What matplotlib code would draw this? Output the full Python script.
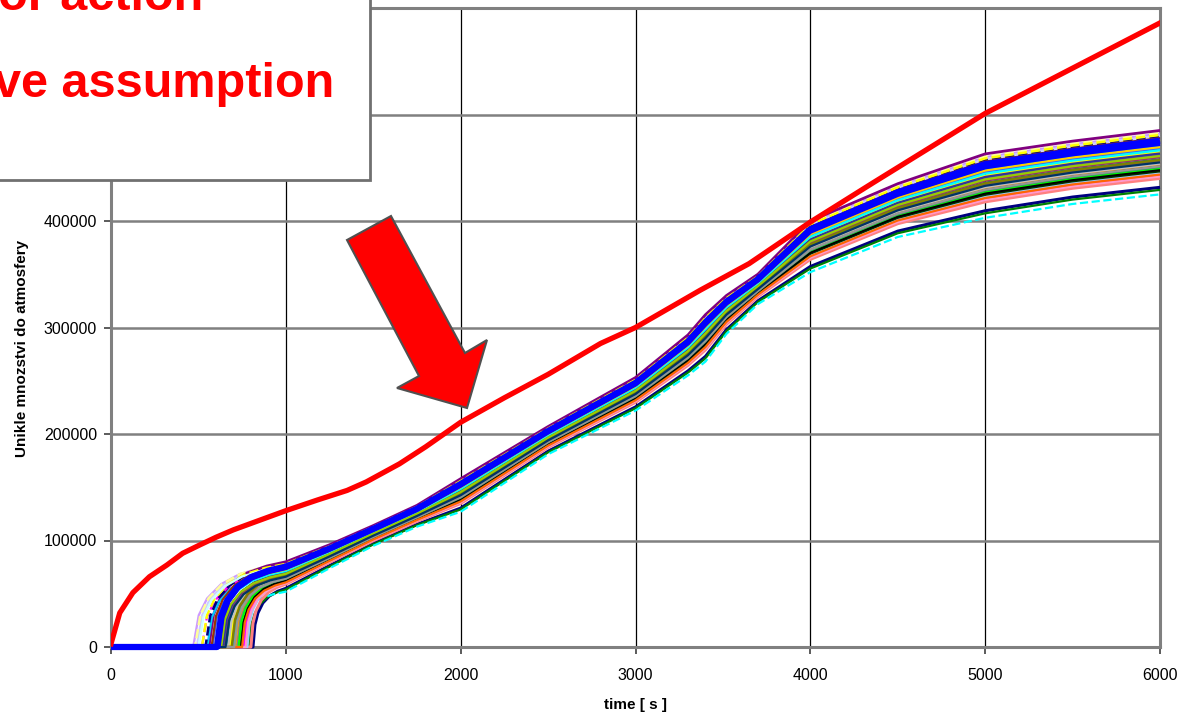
import numpy as np
import matplotlib
matplotlib.use("Agg")
import matplotlib.pyplot as plt
from matplotlib.patches import Rectangle, Polygon
from matplotlib.ticker import MultipleLocator, FormatStrFormatter

plt.rcParams['font.family'] = ['Liberation Sans', 'DejaVu Sans']

# red curve (conservative assumption)
red_t = [0, 50, 125, 220, 320, 410, 510, 600, 700, 800, 900, 1000, 1180, 1350,
         1460, 1650, 1800, 2000, 2250, 2500, 2800, 3000, 3370, 3650, 4000, 4360, 5000, 6000]
red_v = [3000, 32000, 51000, 66000, 77000, 88000, 96000, 103000, 110000, 116000,
         122000, 128000, 138000, 147000, 155000, 172000, 188000, 211000, 234000, 256000,
         285000, 300000, 335000, 360000, 399000, 436000, 501000, 586000]

# envelope of the bundle of runs (lower / upper edge) after t = 1000 s
band_t = [1000, 1250, 1500, 1750, 2000, 2500, 3000, 3300, 3400, 3520, 3700,
          4000, 4500, 5000, 5500, 6000]
band_lo = [52000, 74000, 95000, 113000, 127000, 181000, 222000, 255000, 268000,
           294000, 322000, 352000, 385000, 403000, 416000, 425000]
band_hi = [80000, 96000, 114000, 133000, 158000, 207000, 253000, 293000, 312000,
           330000, 350000, 400000, 435000, 463000, 475000, 485000]

# rise shape between release onset and t = 1000 s (fraction of way / fraction of value)
rise_d = [0, 0.06, 0.15, 0.3, 0.5, 0.75, 1.0]
rise_s = [0, 0.38, 0.58, 0.75, 0.87, 0.95, 1.0]

# individual runs: onset time, position in the bundle, colour, style, width
run_t0 = [812, 790, 700, 800, 760, 780, 740, 720, 700, 690, 680, 730, 660, 650,
          710, 640, 600, 470, 490, 480, 560, 520, 550, 580, 620, 670, 745, 770,
          700, 640, 540, 520, 500, 690, 610, 750, 630, 595, 705, 655, 575, 615, 606]
run_f = [0.11, 0.07, 0.0, 0.25, 0.3, 0.33, 0.36, 0.42, 0.45, 0.5, 0.66, 0.4, 0.55,
         0.58, 0.47, 0.62, 0.7, 0.95, 0.92, 0.96, 1.0, 0.8, 0.76, 0.72, 0.52, 0.48,
         0.38, 0.28, 0.43, 0.64, 0.9, 0.93, 0.86, 0.54, 0.69, 0.31, 0.6, 0.74,
         0.44, 0.5, 0.88, 0.79, 0.84]
run_col = ['#000080', '#008000', '#00FFFF', '#FF8080', '#FF00FF', '#99CCFF',
           '#003300', '#808080', '#800000', '#FF0000', '#FFFF00', '#00FF00',
           '#008080', '#993366', '#FF9900', '#666699', '#33CCCC', '#CC99FF',
           '#CCCCFF', '#FFFF99', '#800080', '#FF00FF', '#00CCFF', '#3366FF',
           '#996633', '#C0C0C0', '#000000', '#FF99CC', '#339966', '#333399',
           '#000080', '#FFFF00', '#CCFFFF', '#808000', '#00FFFF', '#FF6600',
           '#99CC00', '#FFCC00', '#969696', '#003366', '#993300', '#0000FF', '#0000FF']
run_ls = ['-', '-', '--', '-', '-', '-', '-', '-', '-', '-', '-', '-', '-', '-',
          '-', '-', '-', '-', '-', '--', '-', '--', '-', '-', '-', '-', '-', '-',
          '-', '-', '--', '--', '-', '-', '-', '-', '-', '-', '-', '-', '-', '-', '-']
run_lw = [2.2, 1.6, 1.6, 2.2, 1.6, 1.6, 1.6, 1.6, 1.6, 1.4, 1.6, 1.6, 1.6, 1.6,
          1.6, 1.6, 1.6, 1.6, 1.6, 1.8, 2.0, 1.6, 1.6, 1.6, 1.6, 1.6, 1.4, 1.6,
          1.6, 1.6, 1.8, 1.8, 1.6, 1.6, 1.6, 1.6, 1.6, 1.6, 1.6, 1.6, 1.6, 3.0, 4.5]

xlabel = 'time [ s ]'
ylabel = 'Unikle mnozstvi do atmosfery'
note1 = 'tor action'
note2 = 've assumption'

W, H = 1179, 721
fig = plt.figure(figsize=(W / 100, H / 100), dpi=100)
ax = fig.add_axes([111 / W, 1 - 647 / H, 1049 / W, 639 / H])

lo = np.array(band_lo, dtype=float)
hi = np.array(band_hi, dtype=float)
for t0, f, c, ls, lw in zip(run_t0, run_f, run_col, run_ls, run_lw):
    v1000 = lo[0] + f * (hi[0] - lo[0])
    ts = [0.0] + [t0 + d * (1000 - t0) for d in rise_d]
    vs = [0.0] + [s * v1000 for s in rise_s]
    ts += band_t[1:]
    vs += list(lo[1:] + f * (hi[1:] - lo[1:]))
    ax.plot(ts, vs, color=c, linestyle=ls, linewidth=lw, solid_capstyle='butt',
            zorder=3, clip_on=False)

ax.plot(red_t, red_v, color='#FF0000', linewidth=3.8, zorder=5)

ax.set_xlim(0, 6000)
ax.set_ylim(0, 600000)
ax.xaxis.set_major_locator(MultipleLocator(1000))
ax.yaxis.set_major_locator(MultipleLocator(100000))
ax.yaxis.set_major_formatter(FormatStrFormatter('%d'))
ax.xaxis.set_major_formatter(FormatStrFormatter('%d'))
ax.grid(True, axis='y', color='#808080', linewidth=1.8)
ax.grid(True, axis='x', color='#000000', linewidth=0.9)
ax.set_axisbelow(True)
for s in ax.spines.values():
    s.set_color('#808080')
    s.set_linewidth(2.2)
ax.tick_params(axis='both', direction='out', length=5, width=1.2, color='#404040',
               labelsize=11.5)
ax.tick_params(axis='x', pad=10)
ax.tick_params(axis='y', pad=5)

ax.set_xlabel(xlabel, fontsize=11, fontweight='bold')
ax.set_ylabel(ylabel, fontsize=11, fontweight='bold')
ax.xaxis.set_label_coords(0.5, (647 - 698) / 639)
ax.yaxis.set_label_coords((29 - 111) / 1049, (647 - 348) / 639)

# big red block arrow (axes fraction)
arrow_px = [(347, 240), (391, 216), (465, 353), (487, 340), (467, 408), (397, 388), (419, 376)]
arrow_ax = [((x - 111) / 1049, (647 - y) / 639) for x, y in arrow_px]
ax.add_patch(Polygon(arrow_ax, closed=True, transform=ax.transAxes, facecolor='#FF0000',
                     edgecolor='#505050', linewidth=1.5, zorder=6, clip_on=False))

# note box in the upper-left corner, partly outside the figure
fig.add_artist(Rectangle((-20 / W, 1 - 180 / H), 390 / W, 200 / H, transform=fig.transFigure,
                         facecolor='white', edgecolor='#707070', linewidth=2, zorder=8))
fig.text(203 / W, 1 - 10 / H, note1, ha='right', va='baseline', color='#FF0000',
         fontsize=35, fontweight='bold', zorder=9)
fig.text(334 / W, 1 - 97 / H, note2, ha='right', va='baseline', color='#FF0000',
         fontsize=35, fontweight='bold', zorder=9)

fig.savefig('out.png', dpi=100)
